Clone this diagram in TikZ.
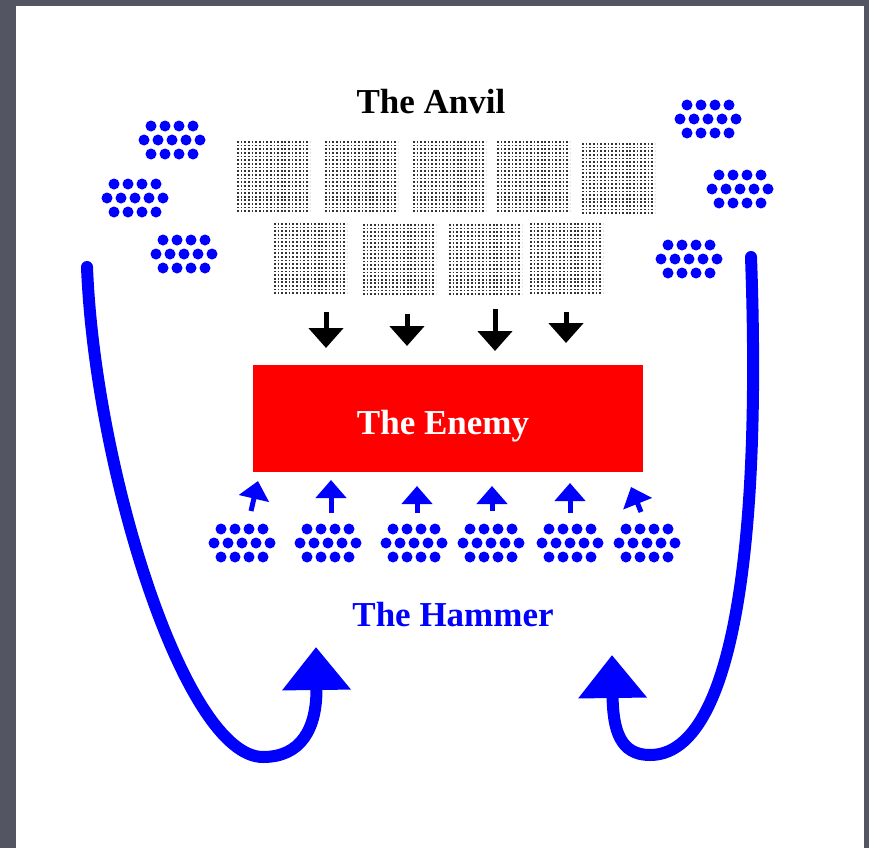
\documentclass[tikz,border=0pt]{standalone}
\usepackage{fontspec}
\setmainfont{Liberation Serif}
\usetikzlibrary{arrows.meta}
\definecolor{slide}{RGB}{84,85,99}
\tikzset{
  troop/.pic={
    \foreach \i in {-1.5,-0.5,0.5,1.5} {
      \fill[blue] (\i*14,-14) circle[radius=5.5pt];
      \fill[blue] (\i*14,14) circle[radius=5.5pt];
    }
    \foreach \i in {-2,...,2}
      \fill[blue] (\i*14,0) circle[radius=5.5pt];
  },
  anvilblock/.pic={
    \foreach \r in {0,...,19}
      \draw[black!80, line width=1.7pt, dash pattern=on 1.7pt off 1.95pt]
        (0,\r*3.65+0.9) -- (73,\r*3.65+0.9);
  }
}
\begin{document}
\begin{tikzpicture}[x=1pt, y=-1pt,
    label/.style={font=\bfseries\fontsize{35}{40}\selectfont, inner sep=0pt},
    enemy/.style={fill=red, minimum width=390pt, minimum height=107pt},
    anvilarrow/.style={black, line width=5pt, -{Triangle[width=34pt, length=20pt]}},
    hammerarrow/.style={blue, line width=5pt, -{Triangle[width=30pt, length=18pt]}},
    flank/.style={blue, line width=12pt, line cap=round, -{Triangle[width=66pt, length=43pt]}}]
    \useasboundingbox (0,0) rectangle (869,848);
    \fill[slide] (0,0) rectangle (869,848);
    \fill[white] (16,6) rectangle (864,848);
    \node[label] (anvil) at (431,102) {The Anvil};
    \pic at (237,141) {anvilblock};
    \pic at (325,141) {anvilblock};
    \pic at (413,141) {anvilblock};
    \pic at (497,141) {anvilblock};
    \pic at (582,143) {anvilblock};
    \pic at (274,223) {anvilblock};
    \pic at (363,224) {anvilblock};
    \pic at (449,224) {anvilblock};
    \pic at (530,223) {anvilblock};
    \pic (l1) at (172,140) {troop};
    \pic (l2) at (135,198) {troop};
    \pic (l3) at (184,254) {troop};
    \pic (r1) at (708,119) {troop};
    \pic (r2) at (740,189) {troop};
    \pic (r3) at (689,259) {troop};
    \node[enemy] (enemy) at (448,418.5) {};
    \node[label, text=white, anchor=base] (enemytext) at (443,434) {The Enemy};
    \draw[anvilarrow] (326,312) -- (326,348);
    \draw[anvilarrow] (407,314) -- (407,346);
    \draw[anvilarrow] (495,309) -- (495,351);
    \draw[anvilarrow] (566,312) -- (566,343);
    \pic (h1) at (242,543) {troop};
    \pic (h2) at (328,543) {troop};
    \pic (h3) at (414,543) {troop};
    \pic (h4) at (491,543) {troop};
    \pic (h5) at (570,543) {troop};
    \pic (h6) at (647,543) {troop};
    \draw[hammerarrow] (251,511) -- (258,481);
    \draw[hammerarrow] (331,513) -- (331,480);
    \draw[hammerarrow] (417,513) -- (417,486);
    \draw[hammerarrow] (492,511) -- (492,486);
    \draw[hammerarrow] (570,513) -- (570,483);
    \draw[hammerarrow] (641,512) -- (631,487);
    \node[label, text=blue, anchor=base] (hammer) at (453,626) {The Hammer};
    \coordinate (lstart) at (87,267);
    \coordinate (lbottom) at (263,757);
    \coordinate (ltip) at (316,647);
    \coordinate (rstart) at (751,257);
    \coordinate (rbottom) at (650,755);
    \coordinate (rtip) at (612,655);
    \draw[flank] (lstart) .. controls (95,470) and (185,757) .. (lbottom)
      .. controls (300,757) and (317,730) .. (ltip);
    \draw[flank] (rstart) .. controls (762,560) and (730,755) .. (rbottom)
      .. controls (620,755) and (613,730) .. (rtip);
\end{tikzpicture}
\end{document}
